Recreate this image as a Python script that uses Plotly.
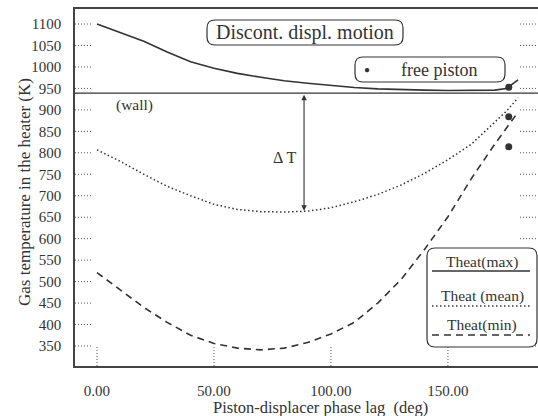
import plotly.graph_objects as go

# Phase lag (deg) and heater gas temperatures (K)
phase = [0, 10, 20, 30, 40, 50, 60, 70, 80, 90, 100, 110, 120, 130, 140, 150, 160, 170, 175, 180]
t_max = [1100, 1080, 1060, 1035, 1012, 997, 985, 976, 968, 962, 957, 952, 949, 947, 946, 945, 945, 946, 950, 970]
t_mean = [807, 780, 750, 722, 700, 680, 668, 663, 662, 664, 672, 686, 703, 725, 752, 784, 820, 870, 897, 928]
t_min = [521, 480, 440, 405, 375, 356, 345, 341, 345, 358, 378, 405, 450, 505, 575, 651, 740, 820, 858, 895]

# Free-piston results
fp_phase = [176, 176, 176]
fp_temp = [953, 884, 814]

wall_temp = 939
dt_phase = 88.5
dt_low = 665

y_ticks = list(range(350, 1101, 50))
x_ticks = [0, 50, 100, 150]
x_tick_text = ["0.00", "50.00", "100.00", "150.00"]

FONT = "Liberation Serif, Times New Roman, serif"
INK = "#333333"

W, H = 538, 416
L, R, T, B = 75, 0, 9, 50
PW, PH = W - L - R, H - T - B


def px(x):
    return (x - L) / PW


def py(y):
    return (H - B - y) / PH


def rounded_box(x0, y0, x1, y1, r=8):
    # pixel box -> paper-coordinate path with rounded corners
    rx, ry = r / PW, r / PH
    a, b, c, d = px(x0), py(y1), px(x1), py(y0)  # left, bottom, right, top
    return (f"M {a+rx},{b} L {c-rx},{b} Q {c},{b} {c},{b+ry} "
            f"L {c},{d-ry} Q {c},{d} {c-rx},{d} L {a+rx},{d} "
            f"Q {a},{d} {a},{d-ry} L {a},{b+ry} Q {a},{b} {a+rx},{b} Z")


fig = go.Figure()
fig.add_trace(go.Scatter(x=phase, y=t_max, mode="lines",
                         line=dict(color=INK, width=1.6), name="Theat(max)"))
fig.add_trace(go.Scatter(x=phase, y=t_mean, mode="lines",
                         line=dict(color=INK, width=1.5, dash="1.5px,2.5px"), name="Theat (mean)"))
fig.add_trace(go.Scatter(x=phase, y=t_min, mode="lines",
                         line=dict(color=INK, width=1.6, dash="7px,5px"), name="Theat(min)"))
fig.add_trace(go.Scatter(x=fp_phase, y=fp_temp, mode="markers",
                         marker=dict(color=INK, size=7), name="free piston"))

shapes = []
# wall temperature line
shapes.append(dict(type="line", xref="paper", yref="y", x0=0, x1=1, y0=wall_temp, y1=wall_temp,
                   line=dict(color=INK, width=1.3)))
# dotted tick marks inside the frame
for v in y_ticks:
    shapes.append(dict(type="line", xref="paper", yref="y", x0=0, x1=18 / PW, y0=v, y1=v,
                       line=dict(color="#555", width=1, dash="1px,2px")))
    shapes.append(dict(type="line", xref="paper", yref="y", x0=1 - 18 / PW, x1=1, y0=v, y1=v,
                       line=dict(color="#555", width=1, dash="1px,2px")))
for v in x_ticks:
    shapes.append(dict(type="line", xref="x", yref="paper", x0=v, x1=v, y0=0, y1=20 / PH,
                       line=dict(color="#555", width=1, dash="1px,2px")))
# rounded label boxes
shapes.append(dict(type="path", xref="paper", yref="paper", path=rounded_box(207, 20, 403, 45),
                   line=dict(color=INK, width=1.2)))
shapes.append(dict(type="path", xref="paper", yref="paper", path=rounded_box(355, 57, 505, 82),
                   line=dict(color=INK, width=1.2)))
shapes.append(dict(type="path", xref="paper", yref="paper", path=rounded_box(427, 248, 537, 347),
                   line=dict(color=INK, width=1.2), fillcolor="white"))
# legend samples
shapes.append(dict(type="line", xref="paper", yref="paper", x0=px(432), x1=px(530), y0=py(271), y1=py(271),
                   line=dict(color=INK, width=1.6)))
shapes.append(dict(type="line", xref="paper", yref="paper", x0=px(432), x1=px(530), y0=py(306), y1=py(306),
                   line=dict(color=INK, width=1.5, dash="1.5px,2.5px")))
shapes.append(dict(type="line", xref="paper", yref="paper", x0=px(432), x1=px(530), y0=py(335), y1=py(335),
                   line=dict(color=INK, width=1.6, dash="7px,5px")))

tf = dict(family=FONT, color=INK)


def label(x, y, text, size, **kw):
    return dict(xref="paper", yref="paper", x=px(x), y=py(y), text=text, showarrow=False,
                xanchor="center", yanchor="middle", font=dict(size=size, **tf), **kw)


annotations = [
    label(305, 32.5, "Discont. displ. motion", 20),
    label(439, 70, "free piston", 18),
    label(367, 70, "\u25CF", 10),
    dict(x=16.2, y=911, text="(wall)", showarrow=False, xanchor="center", yanchor="middle",
         font=dict(size=15.5, **tf)),
    dict(x=80.3, y=788, text="\u0394 T", showarrow=False, xanchor="center", yanchor="middle",
         font=dict(size=16, **tf)),
    dict(x=dt_phase, y=dt_low, ax=dt_phase, ay=wall_temp, axref="x", ayref="y", text="",
         showarrow=True, arrowside="end+start", arrowhead=2, arrowsize=1, arrowwidth=1.1,
         arrowcolor=INK),
    label(482, 262, "Theat(max)", 15.5),
    label(482, 296, "Theat (mean)", 15.5),
    label(482, 325, "Theat(min)", 15.5),
    label(320, 407, "Piston-displacer phase lag  (deg)", 16.5),
    label(25, 192, "Gas temperature in the heater (K)", 17, textangle=-90),
]

fig.update_layout(
    width=W, height=H,
    margin=dict(l=L, r=R, t=T, b=B),
    paper_bgcolor="white", plot_bgcolor="white",
    showlegend=False,
    shapes=shapes, annotations=annotations,
    font=dict(family=FONT, color=INK, size=15),
    xaxis=dict(range=[-9.4, 188.5], tickvals=x_ticks, ticktext=x_tick_text, ticks="",
               showgrid=False, zeroline=False, showline=True, mirror=True,
               linecolor="#444", linewidth=1.5, ticklabelstandoff=10,
               tickfont=dict(size=15, family=FONT, color=INK)),
    yaxis=dict(range=[303.4, 1135], tickvals=y_ticks, ticks="",
               showgrid=False, zeroline=False, showline=True, mirror=False,
               linecolor="#444", linewidth=1.5, ticklabelstandoff=9,
               tickfont=dict(size=15, family=FONT, color=INK)),
)

fig.write_html("out.html")
